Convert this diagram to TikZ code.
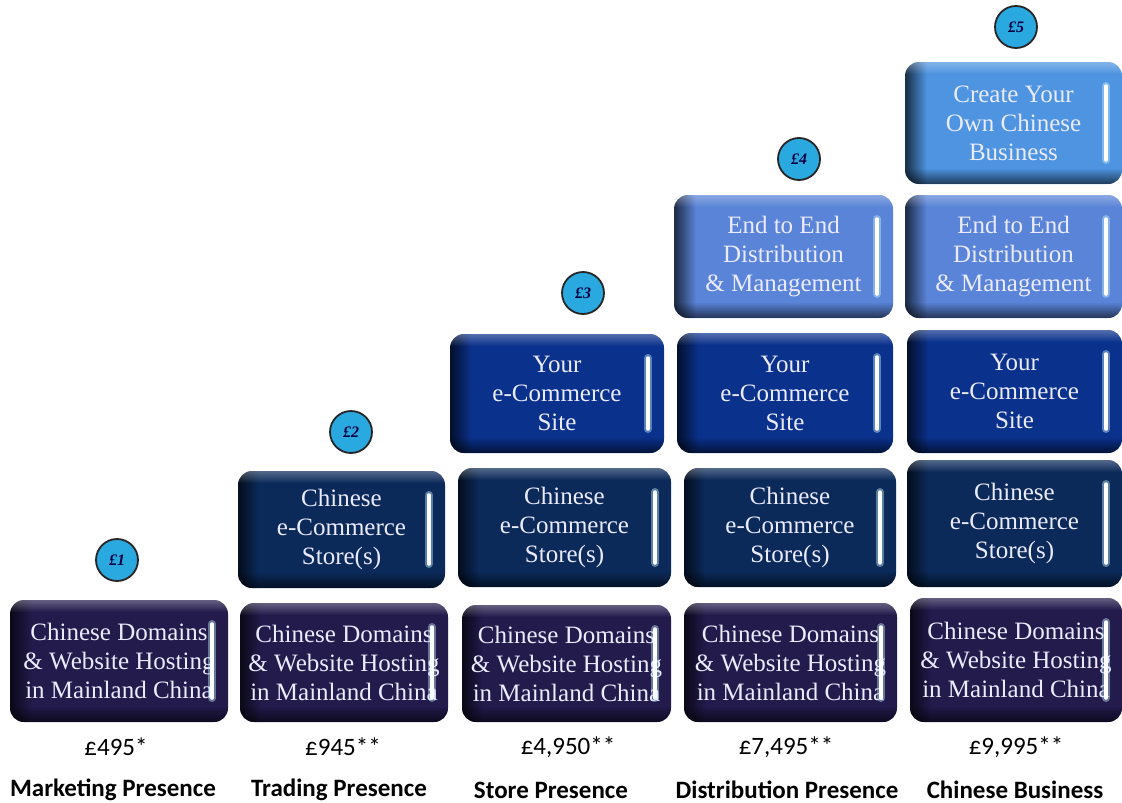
\documentclass[tikz,border=0pt]{standalone}
\usepackage{fontspec}
\setmainfont{Liberation Serif}
\newfontfamily\calfont{Carlito}
\usetikzlibrary{calc,fadings}
\definecolor{cdom}{HTML}{221B4C}
\definecolor{cstore}{HTML}{0B2A5A}
\definecolor{csite}{HTML}{0A318C}
\definecolor{cend}{HTML}{5A84D8}
\definecolor{ccreate}{HTML}{4E94E0}
\definecolor{ccoin}{HTML}{2AA8E0}
\colorlet{gbase}{cdom}
\colorlet{gdark}{black}
\pgfdeclarehorizontalshading[gbase,gdark]{gloss}{100bp}{color(0bp)=(gdark); color(25.3bp)=(gdark); color(30bp)=(gbase); color(100bp)=(gbase)}
\tikzfading[name=fadeS, top color=transparent!100, bottom color=transparent!0]
\tikzfading[name=fadeN, top color=transparent!0, bottom color=transparent!100]
\tikzset{
  gshape/.style={rounded corners=14pt, inner sep=0pt, outer sep=0pt, shading=gloss},
  gtext/.style={inner sep=0pt, text=white!92!blue, align=center, font=\fontsize{25}{29}\selectfont},
  hl/.style={line width=3.5pt, white, line cap=round},
  hlglow/.style={line width=8pt, cyan!25!white, opacity=0.45, line cap=round},
  coin/.style={circle, draw=black!85, line width=1.8pt, fill=ccoin, minimum size=42pt, inner sep=0pt,
    text=black!75!blue, font=\itshape\bfseries\fontsize{16}{16}\selectfont},
  price/.style={font=\calfont\fontsize{25}{25}\selectfont},
  title/.style={font=\calfont\bfseries\fontsize{25}{25}\selectfont}
}
\newcommand\gb[7]{%
  \colorlet{gbase}{#6}\colorlet{gdark}{#6!35!black}%
  \node[gshape, minimum width={#4-#2}, minimum height={#5-#3}] (#1) at ({(#2+#4)/2},{(#3+#5)/2}) {};
  \begin{scope}
    \clip[rounded corners=14pt] (#1.north west) rectangle (#1.south east);
    \fill[black, opacity=0.6, path fading=fadeS] ([yshift=16pt]#1.south west) rectangle (#1.south east);
    \fill[white, opacity=0.3, path fading=fadeN] (#1.north west) rectangle ([yshift=-12pt]#1.north east);
  \end{scope}
  \node[gtext] (#1t) at (#1.center) {#7};
  \draw[hlglow] ([xshift=-16pt,yshift=-24pt]#1.north east) -- ([xshift=-16pt,yshift=24pt]#1.south east);
  \draw[hl] ([xshift=-16pt,yshift=-24pt]#1.north east) -- ([xshift=-16pt,yshift=24pt]#1.south east);
}
\newcommand\txdom{Chinese Domains\\ \& Website Hosting\\ in Mainland China}
\newcommand\txstore{Chinese\\ e-Commerce\\ Store(s)}
\newcommand\txsite{Your\\ e-Commerce\\ Site}
\newcommand\txend{End to End\\ Distribution\\ \& Management}
\begin{document}
\begin{tikzpicture}[x=1pt,y=-1pt]
\useasboundingbox (0,0) rectangle (1122,803);
% column 1
\gb{d1}{10}{600}{228}{722}{cdom}{\txdom}
% column 2
\gb{s2}{238}{471}{445}{588}{cstore}{\txstore}
\gb{d2}{240}{603}{448}{722}{cdom}{\txdom}
% column 3
\gb{w3}{450}{334}{664}{453}{csite}{\txsite}
\gb{s3}{458}{468}{671}{587}{cstore}{\txstore}
\gb{d3}{462}{605}{671}{722}{cdom}{\txdom}
% column 4
\gb{e4}{674}{195}{893}{318}{cend}{\txend}
\gb{w4}{677}{333}{893}{453}{csite}{\txsite}
\gb{s4}{684}{468}{896}{587}{cstore}{\txstore}
\gb{d4}{684}{603}{897}{722}{cdom}{\txdom}
% column 5
\gb{c5}{905}{62}{1122}{184}{ccreate}{Create Your\\ Own Chinese\\ Business}
\gb{e5}{905}{195}{1122}{318}{cend}{\txend}
\gb{w5}{907}{330}{1122}{453}{csite}{\txsite}
\gb{s5}{907}{460}{1122}{587}{cstore}{\txstore}
\gb{d5}{910}{598}{1122}{722}{cdom}{\txdom}
% coins
\node[coin] (k1) at (117,560) {£1};
\node[coin] (k2) at (351,432) {£2};
\node[coin] (k3) at (583,293) {£3};
\node[coin] (k4) at (799,159) {£4};
\node[coin] (k5) at (1016,27) {£5};
% prices
\node[price] (p1) at (116,747) {£495*};
\node[price] (p2) at (343,747) {£945**};
\node[price] (p3) at (568,747) {£4,950**};
\node[price] (p4) at (786,747) {£7,495**};
\node[price] (p5) at (1016,747) {£9,995**};
% titles
\node[title] (t1) at (113,790) {Marketing Presence};
\node[title] (t2) at (339,790) {Trading Presence};
\node[title] (t3) at (551,790) {Store Presence};
\node[title] (t4) at (787,790) {Distribution Presence};
\node[title] (t5) at (1015,790) {Chinese Business};
\end{tikzpicture}
\end{document}
